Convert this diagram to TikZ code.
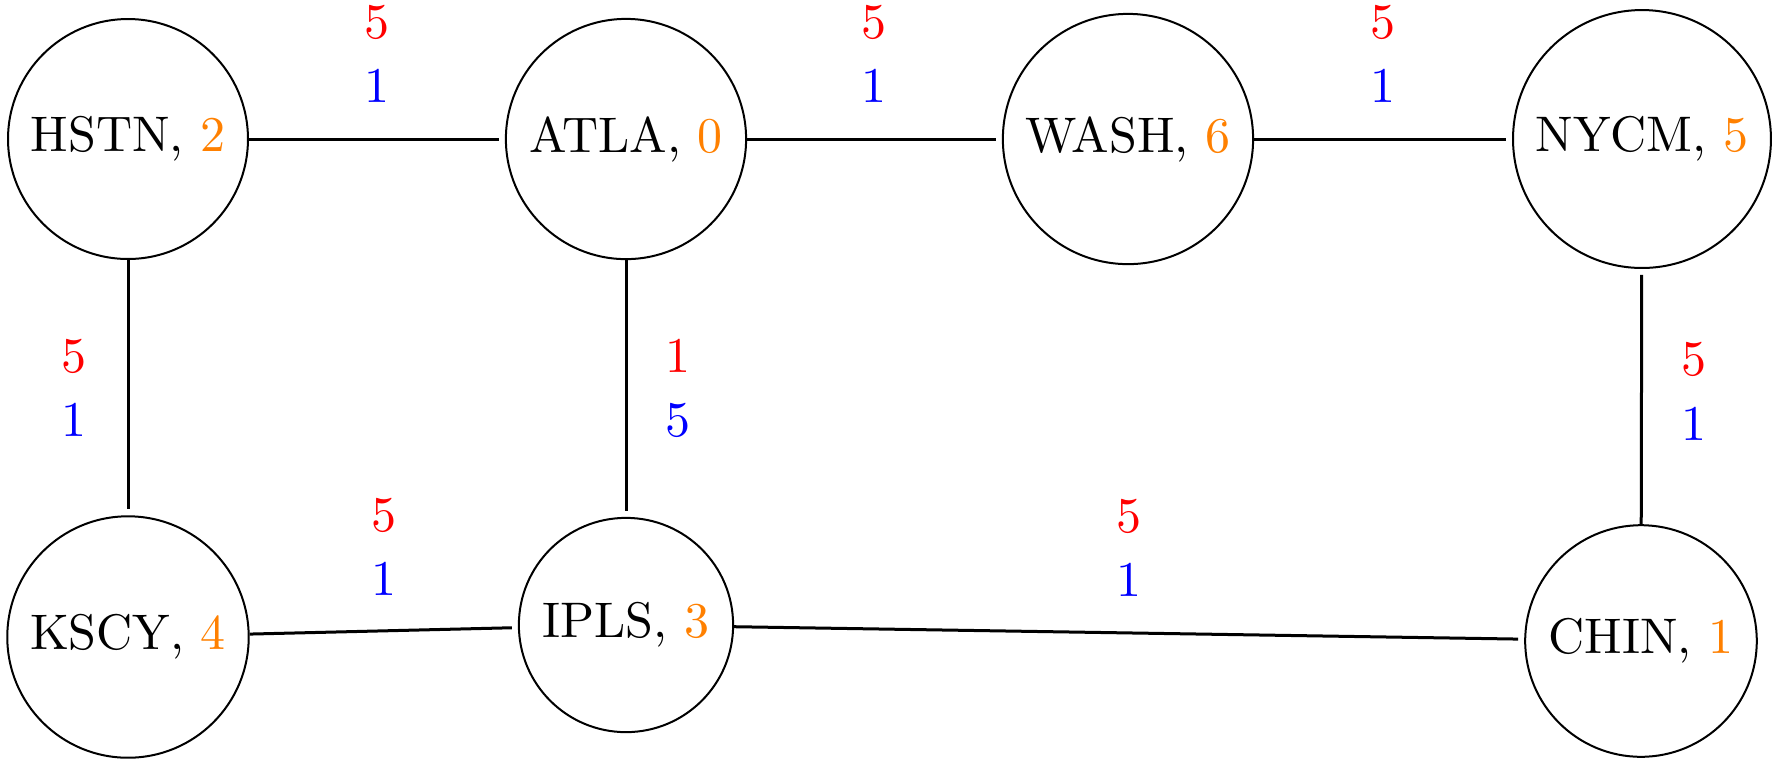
\documentclass[tikz,border=0pt]{standalone}
\usetikzlibrary{positioning}
\tikzset{
  city/.style={circle, draw, line width=0.4pt},
  link/.style={semithick, shorten >=1.2pt},
  lbl/.style={align=center, inner sep=0pt},
}
\newcommand{\wt}[2]{\textcolor{red}{#1}\\[0.9pt]\textcolor{blue}{#2}}
\begin{document}
\begin{tikzpicture}[x=0.2pt,y=0.2pt]
\useasboundingbox (0,0) rectangle (1778,-764);
\node[city] (HSTN) at (128,-139) {HSTN, \textcolor{orange}{2}};
\node[city] (ATLA) at (626,-139) {ATLA, \textcolor{orange}{0}};
\node[city] (WASH) at (1128,-139) {WASH, \textcolor{orange}{6}};
\node[city] (NYCM) at (1642,-139) {NYCM, \textcolor{orange}{5}};
\node[city] (KSCY) at (128,-637) {KSCY, \textcolor{orange}{4}};
\node[city] (IPLS) at (626,-625) {IPLS, \textcolor{orange}{3}};
\node[city] (CHIN) at (1641,-641) {CHIN, \textcolor{orange}{1}};

\draw[link] (HSTN) -- node[lbl, yshift=17pt] {\wt{5}{1}} (ATLA);
\draw[link] (ATLA) -- node[lbl, yshift=17pt] {\wt{5}{1}} (WASH);
\draw[link] (WASH) -- node[lbl, yshift=17pt] {\wt{5}{1}} (NYCM);
\draw[link] (HSTN) -- node[lbl, xshift=-10.8pt] {\wt{5}{1}} (KSCY);
\draw[link] (ATLA) -- node[lbl, xshift=10.4pt] {\wt{1}{5}} (IPLS);
\draw[link] (CHIN) -- node[lbl, xshift=10.6pt, yshift=1pt] {\wt{5}{1}} (NYCM);
\draw[link] (KSCY) -- node[lbl, yshift=16.8pt] {\wt{5}{1}} (IPLS);
\draw[link] (IPLS) -- node[lbl, yshift=17pt] {\wt{5}{1}} (CHIN);
\end{tikzpicture}
\end{document}
